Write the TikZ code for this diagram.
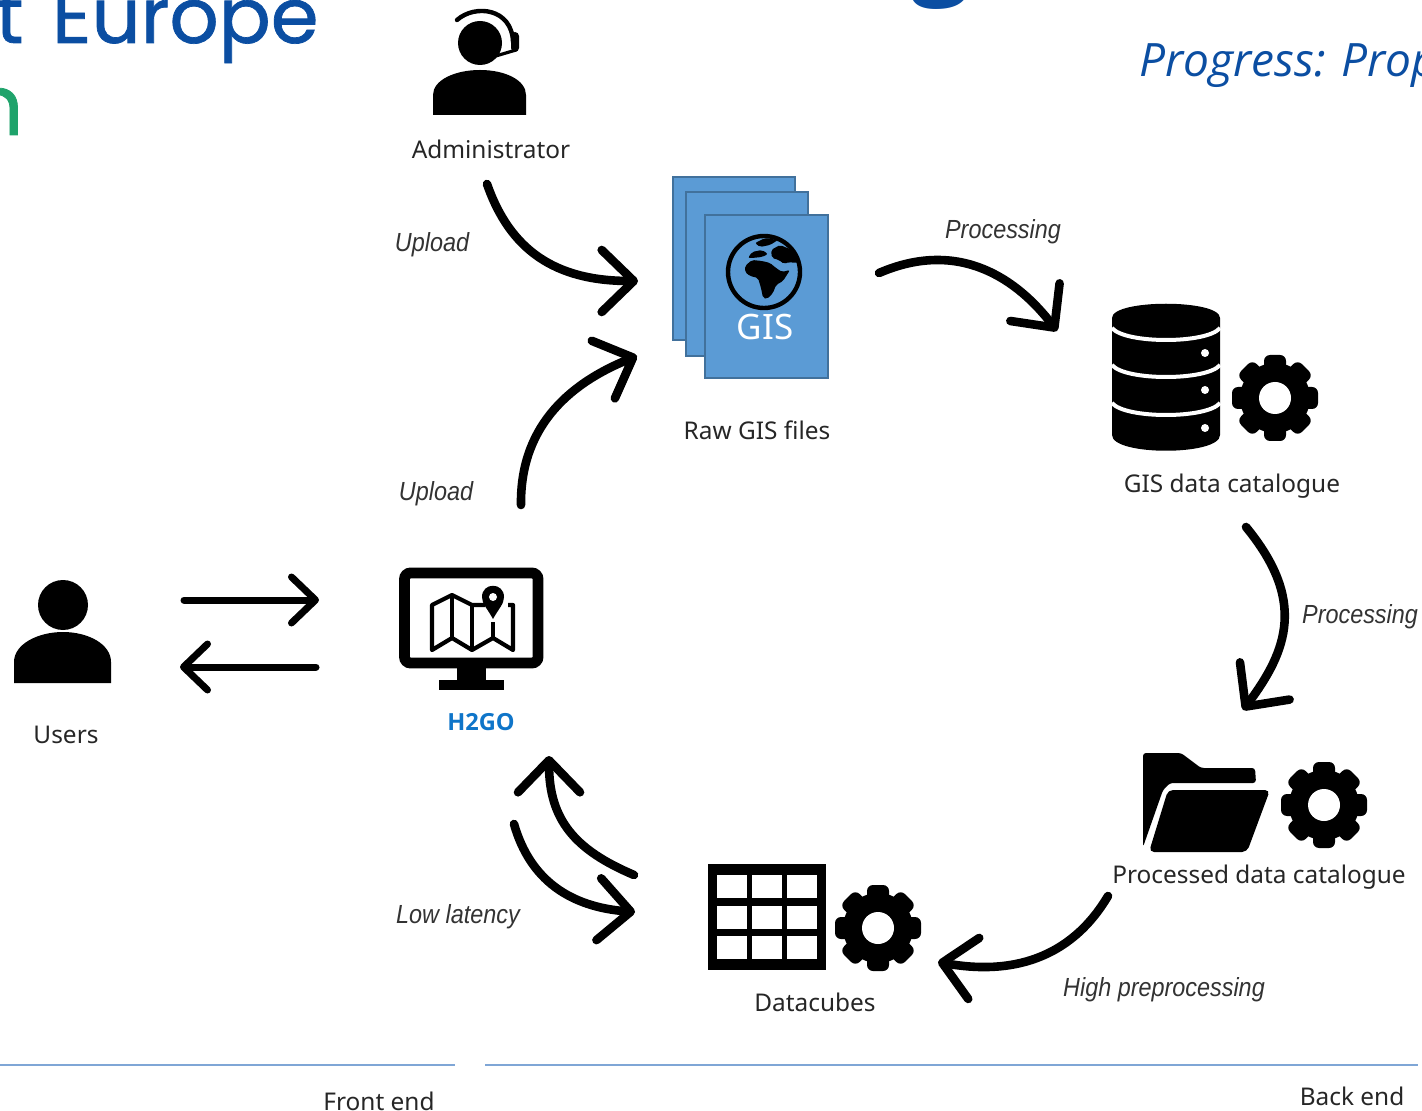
\documentclass[tikz,border=0pt]{standalone}
\usepackage{fontspec}
\setmainfont{Noto Sans}
\newfontfamily\titlefont[FakeBold=0.9]{Poppins}
\newfontfamily\slidefont{Open Sans}
\newfontfamily\notefont{Liberation Sans}
\usetikzlibrary{arrows.meta}
\definecolor{titleblue}{HTML}{0B4EA2}
\definecolor{titlegreen}{HTML}{1FA36B}
\definecolor{filefill}{HTML}{5B9BD5}
\definecolor{fileline}{HTML}{41719C}
\definecolor{appblue}{HTML}{0F75C9}
\definecolor{rulecolor}{HTML}{7FA6D6}
\tikzset{
	flowarrow/.style={line width=4.3pt, line cap=round, -{Straight Barb[length=16pt,width=31pt,round]}},
	sidearrow/.style={line width=3.5pt, line cap=round, -{Straight Barb[length=12pt,width=23pt,round]}},
	iconlabel/.style={font=\fontsize{12.2}{14}\selectfont, text=black!85},
	flowlabel/.style={font=\notefont\itshape\fontsize{11.7}{14}\selectfont, text=black!80, yscale=1.12},
	filesheet/.style={fill=filefill, draw=fileline, line width=1pt}
}
\begin{document}
\begin{tikzpicture}[x=0.5pt, y=-0.5pt]
	\useasboundingbox (0, 0) rectangle (1422, 1111);
	\clip (0, 0) rectangle (1422, 1111);

	% Remains of the slide title
	\node[anchor=base east, inner sep=0pt, text=titleblue, font=\titlefont\fontsize{38.5}{46}\selectfont] (titleeurope) at (319, 43) {t\kern4pt\ Europe};
	\node[anchor=base east, inner sep=0pt, text=titlegreen, font=\titlefont\fontsize{42}{50}\selectfont] (titlegreen) at (24, 135) {n};
	\node[anchor=base, inner sep=0pt, text=titleblue, font=\slidefont\bfseries\fontsize{52}{60}\selectfont] (titleg) at (941, -15) {g};
	\node[anchor=base west, inner sep=0pt, text=titleblue, font=\slidefont\itshape\fontsize{23}{26}\selectfont] (progress) at (1139, 77) {Progress: Prop};

	% Administrator
	\fill (480, 43) circle (22);
	\fill (433, 115) -- (433, 95) .. controls (433, 80) and (455, 70) .. (480, 70) .. controls (505, 70) and (526, 80) .. (526, 95) -- (526, 115) -- cycle;
	\draw[line width=2.2pt, line cap=round] (457, 20) .. controls (475, 4) and (512, 8) .. (513, 42);
	\fill[rounded corners=2pt] (511, 32) rectangle (519, 52);
	\draw[line width=1.6pt, line cap=round] (516, 50) -- (489, 58);
	\node[iconlabel] (admin) at (491, 149) {Administrator};

	% Raw GIS files
	\draw[filesheet] (673, 177) rectangle (795, 340);
	\draw[filesheet] (686, 192) rectangle (808, 356);
	\draw[filesheet] (705, 215) rectangle (828, 378);
	\draw[line width=2.2pt] (764, 272) circle (36);
	\fill[rounded corners=1pt] (745, 266) -- (752, 260) -- (762, 261) -- (770, 263) -- (776, 268) -- (782, 272) -- (790, 270) -- (783, 281) -- (776, 285) -- (773, 293) -- (767, 299) -- (763, 298) -- (761, 288) -- (758, 278) -- (750, 276) -- (745, 272) -- cycle;
	\fill[rounded corners=1pt] (771, 250) -- (780, 245) -- (792, 250) -- (799, 262) -- (795, 263) -- (789, 262) -- (784, 264) -- (779, 260) -- (772, 258) -- cycle;
	\fill[rounded corners=1pt] (748, 258) -- (752, 252) -- (762, 250) -- (768, 254) -- (762, 257) -- (752, 258) -- cycle;
	\fill[rounded corners=1pt] (755, 243) -- (765, 238) -- (778, 240) -- (770, 245) -- (760, 247) -- cycle;
	\node[text=white, font=\fontsize{17.5}{19}\selectfont, inner sep=0pt] (gistext) at (765, 327) {GIS};
	\node[iconlabel] (rawfiles) at (757, 430) {Raw GIS files};

	% GIS data catalogue
	\fill (1112, 318) .. controls (1112, 299) and (1220, 299) .. (1220, 318) -- (1220, 435) .. controls (1220, 456) and (1112, 456) .. (1112, 435) -- cycle;
	\foreach \ty in {328, 365, 403} {
		\draw[white, line width=2pt] (1112, \ty) .. controls (1125, \ty+16) and (1207, \ty+16) .. (1220, \ty);
		\fill[white] (1205, \ty+25) circle (4);
	}
	\node[iconlabel] (giscat) at (1232, 486) {GIS data catalogue};

	% Gears
	\foreach \gx/\gy in {1275/398, 1324/805, 878/928} {
		\fill (\gx, \gy) circle (35);
		\foreach \ga in {0, 45, 90, 135}
			\fill[shift={(\gx, \gy)}, rotate=\ga, rounded corners=3pt] (-11, -43) rectangle (11, 43);
		\fill[white] (\gx, \gy) circle (16);
	}

	% Processed data catalogue
	\fill[rounded corners=1.5pt] (1143, 847) -- (1143, 753) -- (1181, 753) -- (1201, 768) -- (1255, 768) -- (1256, 783) -- (1170, 783) -- (1163, 790) -- cycle;
	\fill[rounded corners=2.5pt] (1149, 852) -- (1168, 790) -- (1270, 790) -- (1247, 852) -- cycle;
	\node[iconlabel] (proccat) at (1259, 877) {Processed data catalogue};

	% Datacubes
	\fill (708, 864) rectangle (826, 970);
	\foreach \cx in {717, 752, 787}
		\foreach \cy in {875, 906, 936}
			\fill[white] (\cx, \cy) rectangle (\cx+30, \cy+23);
	\node[iconlabel] (datacubes) at (815, 1002) {Datacubes};

	% H2GO
	\draw[line width=5.4pt, rounded corners=3pt] (404.5, 573) rectangle (538, 663);
	\fill (457, 668) rectangle (486, 682);
	\fill (439, 680) rectangle (504, 690);
	\draw[line width=2.1pt, line join=round] (485, 605) -- (472, 605) -- (452, 595) -- (432, 605) -- (432, 650) -- (452, 638) -- (472, 650) -- (493, 638) -- (513, 650) -- (513, 605) -- (508, 605);
	\draw[line width=2.1pt] (452, 595) -- (452, 638) (472, 605) -- (472, 650) (493, 622) -- (493, 638);
	\fill (493, 619) .. controls (487, 608) and (482, 604) .. (482, 597) .. controls (482, 582) and (504, 582) .. (504, 597) .. controls (504, 604) and (499, 608) .. (493, 619) -- cycle;
	\fill[white] (493, 597) circle (4);
	\node[font=\slidefont\bfseries\fontsize{11.8}{14}\selectfont, text=appblue] (h2go) at (481, 722) {H2GO};

	% Users
	\fill (63, 605) circle (25);
	\fill (14, 683) -- (14, 662) .. controls (14, 644) and (38, 632) .. (63, 632) .. controls (88, 632) and (111, 644) .. (111, 662) -- (111, 683) -- cycle;
	\node[iconlabel] (users) at (66, 735) {Users};

	% End points of the arrows
	\coordinate (uploadastart) at (487, 184);
	\coordinate (uploadaend) at (638, 281);
	\coordinate (uploadbstart) at (521, 505);
	\coordinate (uploadbend) at (637, 356);
	\coordinate (procastart) at (879, 273);
	\coordinate (procaend) at (1057, 331);
	\coordinate (procbstart) at (1246, 527);
	\coordinate (procbend) at (1243, 710);
	\coordinate (highstart) at (1108, 896);
	\coordinate (highend) at (938, 962);
	\coordinate (lowupstart) at (634, 875);
	\coordinate (lowupend) at (549, 756);
	\coordinate (lowdownstart) at (514, 824);
	\coordinate (lowdownend) at (635, 912);
	\coordinate (usersoutstart) at (184, 600);
	\coordinate (usersoutend) at (319, 600);
	\coordinate (usersinstart) at (316, 667);
	\coordinate (usersinend) at (180, 667);

	% Arrows
	\draw[flowarrow] (uploadastart) .. controls (510, 250) and (555, 281) .. (uploadaend);
	\draw[flowarrow] (uploadbstart) .. controls (520, 430) and (565, 385) .. (uploadbend);
	\draw[flowarrow] (procastart) .. controls (960, 238) and (1018, 280) .. (procaend);
	\draw[flowarrow] (procbstart) .. controls (1306, 600) and (1288, 650) .. (procbend);
	\draw[flowarrow] (highstart) .. controls (1070, 960) and (1010, 975) .. (highend);
	\draw[flowarrow] (lowupstart) .. controls (575, 850) and (549, 820) .. (lowupend);
	\draw[flowarrow] (lowdownstart) .. controls (530, 880) and (570, 907) .. (lowdownend);
	\draw[sidearrow] (usersoutstart) -- (usersoutend);
	\draw[sidearrow] (usersinstart) -- (usersinend);

	% Arrow labels
	\node[flowlabel] (uploada) at (432, 245) {Upload};
	\node[flowlabel] (uploadb) at (436, 494) {Upload};
	\node[flowlabel] (procalabel) at (1003, 232) {Processing};
	\node[flowlabel] (procblabel) at (1360, 617) {Processing};
	\node[flowlabel] (lowlatency) at (458, 917) {Low latency};
	\node[flowlabel] (highprep) at (1164, 990) {High preprocessing};

	% Front end and back end
	\coordinate (frontleft) at (0, 1065);
	\coordinate (frontright) at (455, 1065);
	\coordinate (backleft) at (485, 1065);
	\coordinate (backright) at (1418, 1065);
	\draw[rulecolor, line width=0.7pt] (frontleft) -- (frontright);
	\draw[rulecolor, line width=0.7pt] (backleft) -- (backright);
	\node[iconlabel] (frontend) at (379, 1101) {Front end};
	\node[iconlabel] (backend) at (1352, 1096) {Back end};
\end{tikzpicture}
\end{document}
